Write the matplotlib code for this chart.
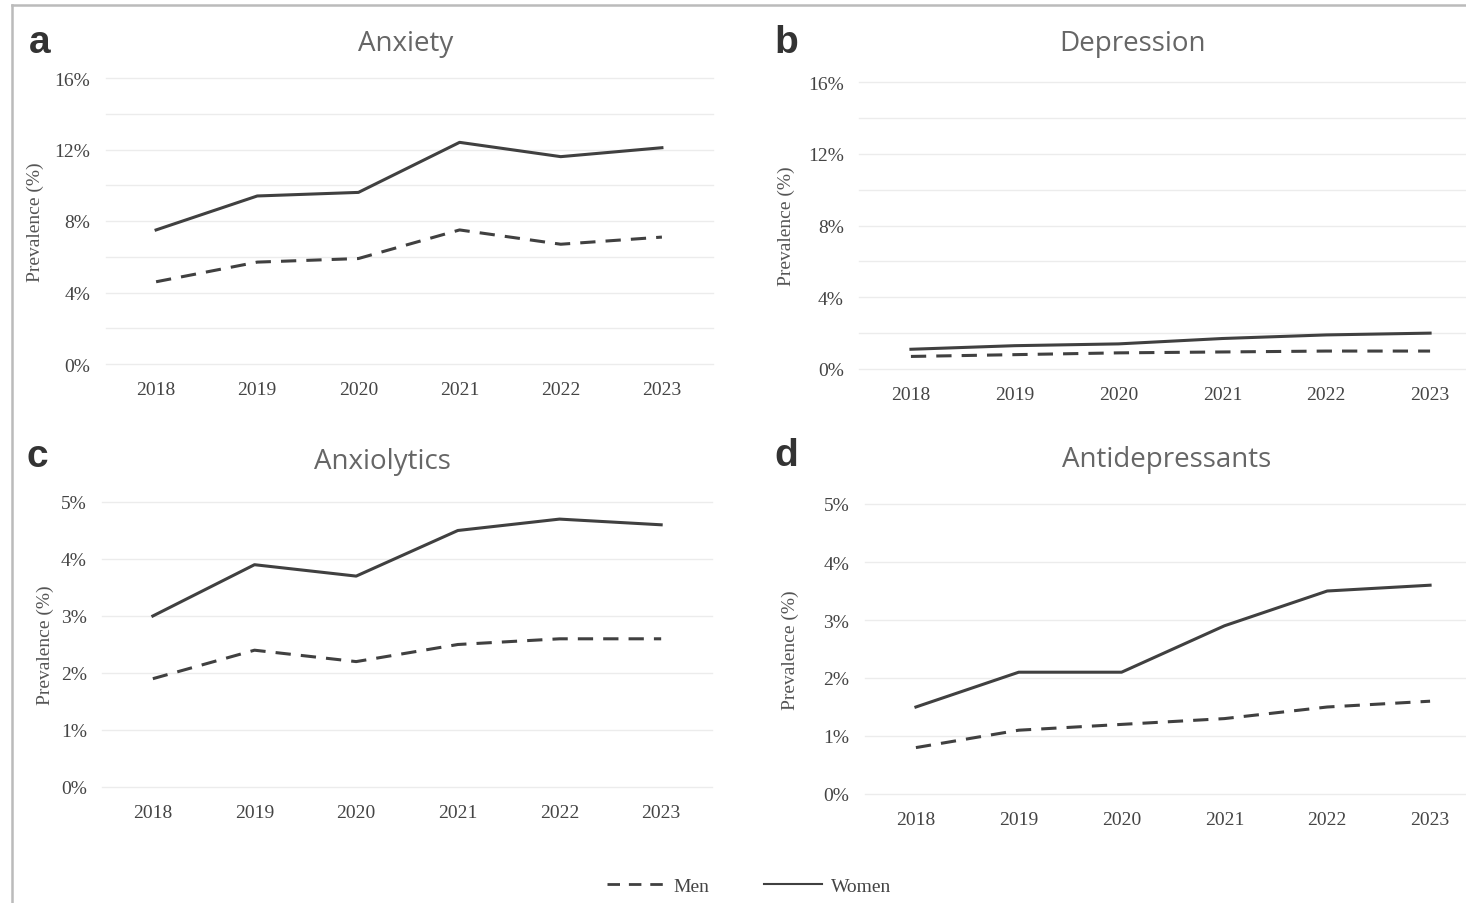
import matplotlib
matplotlib.use("Agg")
import matplotlib.pyplot as plt
from matplotlib.lines import Line2D

# Data
years = ["2018", "2019", "2020", "2021", "2022", "2023"]

anxiety_women = [7.5, 9.4, 9.6, 12.4, 11.6, 12.1]
anxiety_men = [4.6, 5.7, 5.9, 7.5, 6.7, 7.1]

depression_women = [1.1, 1.3, 1.4, 1.7, 1.9, 2.0]
depression_men = [0.7, 0.8, 0.9, 0.95, 1.0, 1.0]

anxiolytics_women = [3.0, 3.9, 3.7, 4.5, 4.7, 4.6]
anxiolytics_men = [1.9, 2.4, 2.2, 2.5, 2.6, 2.6]

antidep_women = [1.5, 2.1, 2.1, 2.9, 3.5, 3.6]
antidep_men = [0.8, 1.1, 1.2, 1.3, 1.5, 1.6]

line_color = "#404040"
serif = "Liberation Serif"

W, H = 1466, 904
fig = plt.figure(figsize=(W / 100, H / 100), dpi=100)


def px_axes(left, right, top, bottom):
    # pixel box -> figure fraction
    return fig.add_axes([left / W, (H - bottom) / H, (right - left) / W, (bottom - top) / H])


def draw_panel(ax, women, men, ymax, ystep, gridstep, label_x):
    x = list(range(len(years)))
    ax.plot(x, women, color=line_color, lw=2.2)
    ax.plot(x, men, color=line_color, lw=2.2, dashes=(5, 3.3))
    ax.set_xlim(-0.5, len(years) - 0.5)
    ax.set_ylim(0, ymax)
    ax.set_xticks(x)
    ax.set_xticklabels(years)
    ticks = [i * ystep for i in range(int(round(ymax / ystep)) + 1)]
    ax.set_yticks(ticks)
    ax.set_yticklabels([f"{int(t)}%" for t in ticks])
    grid = [i * gridstep for i in range(int(round(ymax / gridstep)) + 1)]
    for g in grid:
        ax.axhline(g, color="#ececec", lw=1.0, zorder=0, clip_on=False)
    for s in ax.spines.values():
        s.set_visible(False)
    ax.tick_params(length=0, labelsize=14, labelcolor="#444444")
    ax.tick_params(axis="y", pad=11)
    ax.tick_params(axis="x", pad=12)
    for t in ax.get_xticklabels() + ax.get_yticklabels():
        t.set_fontfamily(serif)
    ax.set_ylabel("Prevalence (%)", fontsize=14, color="#555555", fontfamily=serif)
    ax.yaxis.set_label_coords(label_x, 0.5)
    ax.set_facecolor("none")


ax_a = px_axes(105.5, 712.5, 79, 365)
draw_panel(ax_a, anxiety_women, anxiety_men, 16, 4, 2, -0.102)

ax_b = px_axes(859, 1482, 83, 370)
draw_panel(ax_b, depression_women, depression_men, 16, 4, 2, -0.102)

ax_c = px_axes(102, 712, 503, 788)
draw_panel(ax_c, anxiolytics_women, anxiolytics_men, 5, 1, 1, -0.078)

ax_d = px_axes(864.5, 1481.5, 505, 795)
draw_panel(ax_d, antidep_women, antidep_men, 5, 1, 1, -0.106)

# panel titles and letters
titles = [("Anxiety", 406, 44), ("Depression", 1132, 44),
          ("Anxiolytics", 382, 462), ("Antidepressants", 1167, 460)]
for txt, x, y in titles:
    fig.text(x / W, 1 - y / H, txt, ha="center", va="center",
             fontsize=20, color="#666666", fontfamily="Open Sans")

letters = [("a", 40, 43), ("b", 786, 43), ("c", 37, 457), ("d", 786, 456)]
for txt, x, y in letters:
    fig.text(x / W, 1 - y / H, txt, ha="center", va="center",
             fontsize=28, fontweight="bold", color="#333333", fontfamily="Liberation Sans")

# thin frame on the top and left edge
fig.add_artist(Line2D([12 / W, 12 / W], [0, 1 - 6 / H], color="#bbbbbb", lw=1.8))
fig.add_artist(Line2D([12 / W, 1], [1 - 6 / H, 1 - 6 / H], color="#bbbbbb", lw=1.8))

# legend at the bottom
handles = [Line2D([], [], color=line_color, lw=2.0, dashes=(4.5, 3.2)),
           Line2D([], [], color=line_color, lw=1.5)]
fig.legend(handles, ["Men", "Women"], loc="center", bbox_to_anchor=(749 / W, 1 - 887 / H),
           ncol=2, frameon=False, handlelength=3.0, handletextpad=0.45, columnspacing=2.8,
           prop={"family": serif, "size": 14}, labelcolor="#444444")

plt.savefig("out.png", dpi=100)
